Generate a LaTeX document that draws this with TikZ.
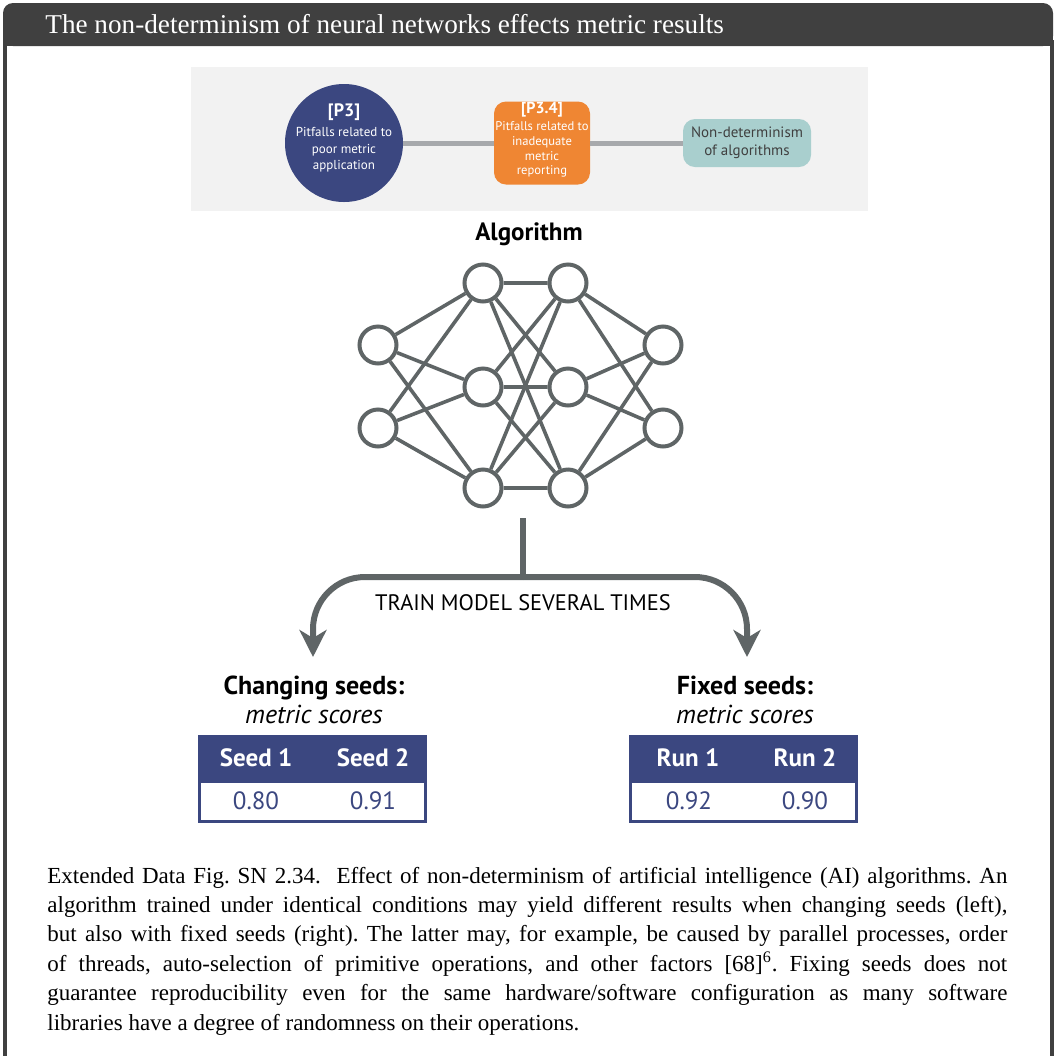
\documentclass[tikz,border=0pt]{standalone}
\usepackage{fontspec}
\setmainfont{Liberation Serif}
\newfontfamily\figsans{PT Sans}
\usetikzlibrary{arrows.meta,positioning}
\definecolor{framegray}{HTML}{404040}
\definecolor{bannergray}{HTML}{F2F2F2}
\definecolor{navy}{HTML}{3B4780}
\definecolor{pitorange}{HTML}{EF8633}
\definecolor{paleteal}{HTML}{A9CFCE}
\definecolor{linkgray}{HTML}{A7A9AC}
\definecolor{netgray}{HTML}{5F6566}
\begin{document}
\begin{tikzpicture}[x=0.5pt, y=-0.5pt, every node/.style={font=\figsans},
  neuron/.style={circle, draw=netgray, line width=2pt, fill=white, minimum size=18.5pt, inner sep=0pt},
  edge/.style={netgray, line width=1.8pt},
  link/.style={linkgray, line width=2.5pt},
  flow/.style={netgray, line width=3pt},
  arr/.style={flow, rounded corners=26pt, -{Stealth[length=13.5pt, width=13.5pt, inset=4pt]}},
  pit/.style={text=white, align=center, inner sep=0pt},
  head/.style={align=center, font=\figsans\bfseries\fontsize{13}{14.5}\selectfont},
  thead/.style={fill=navy, draw=navy, line width=1.5pt, minimum width=113pt, minimum height=22.5pt, inner sep=0pt},
  tbody/.style={fill=white, draw=navy, line width=1.5pt, minimum width=113pt, minimum height=20pt, inner sep=0pt},
  hcell/.style={text=white, font=\figsans\bfseries\fontsize{12.5}{14}\selectfont},
  vcell/.style={text=navy, font=\figsans\fontsize{12.5}{14}\selectfont}]
\useasboundingbox (0,0) rectangle (1054,1056);
% frame and title bar
\fill[framegray, rounded corners=5pt] (3,3) rectangle (1053,46);
\fill[framegray] (3,30) rectangle (1053,46);
\draw[framegray, line width=2pt] (5,40) -- (5,1070);
\draw[framegray, line width=1.75pt] (1052,40) -- (1052,1070);
\node[anchor=base west, text=white, inner sep=0pt, font=\rmfamily\fontsize{13.6}{15}\selectfont] (title) at (45,33)
  {The non-determinism of neural networks effects metric results};
% pitfall banner
\fill[bannergray] (191,67) rectangle (868,211);
\node[circle, fill=navy, minimum size=59pt, inner sep=0pt] (p3) at (344,143) {};
\node[pit, font=\figsans\fontsize{6.5}{8.2}\selectfont] (p3txt) at (344,138)
  {{\bfseries\fontsize{9}{11}\selectfont [P3]}\\[2pt] Pitfalls related to\\poor metric\\application};
\node[fill=pitorange, rounded corners=6pt, minimum width=48pt, minimum height=41.5pt, inner sep=0pt] (p34) at (542,143) {};
\node[pit, font=\figsans\fontsize{6.3}{7.4}\selectfont] (p34txt) at (542,140)
  {{\bfseries\fontsize{8}{9.5}\selectfont [P3.4]}\\[1pt] Pitfalls related to\\inadequate\\metric\\reporting};
\node[fill=paleteal, rounded corners=6pt, minimum width=64pt, minimum height=24pt, align=center, inner sep=0pt,
  text=black!75, font=\figsans\fontsize{7.5}{9}\selectfont] (teal) at (747,143) {Non-determinism\\of algorithms};
\draw[link] (p3) -- (p34);
\draw[link] (p34) -- (teal);
% network
\node[font=\figsans\bfseries\fontsize{12.5}{14}\selectfont] (algo) at (529,234) {Algorithm};
\node[neuron] (i1) at (378,345) {};
\node[neuron] (i2) at (378,428) {};
\node[neuron] (h1) at (483,283) {};
\node[neuron] (h2) at (483,387) {};
\node[neuron] (h3) at (483,488) {};
\node[neuron] (g1) at (568,283) {};
\node[neuron] (g2) at (568,387) {};
\node[neuron] (g3) at (568,488) {};
\node[neuron] (o1) at (663,345) {};
\node[neuron] (o2) at (663,428) {};
\draw[edge] (i1) -- (h1) (i1) -- (h2) (i1) -- (h3);
\draw[edge] (i2) -- (h1) (i2) -- (h2) (i2) -- (h3);
\draw[edge] (h1) -- (g1) (h1) -- (g2) (h1) -- (g3);
\draw[edge] (h2) -- (g1) (h2) -- (g2) (h2) -- (g3);
\draw[edge] (h3) -- (g1) (h3) -- (g2) (h3) -- (g3);
\draw[edge] (g1) -- (o1) (g1) -- (o2);
\draw[edge] (g2) -- (o1) (g2) -- (o2);
\draw[edge] (g3) -- (o1) (g3) -- (o2);
% training split
\coordinate (stem) at (523,518);
\coordinate (split) at (523,577);
\coordinate (ltip) at (313,657);
\coordinate (rtip) at (747,657);
\draw[flow] (stem) -- (split);
\draw[arr] (split) -| (ltip);
\draw[arr] (split) -| (rtip);
\node[font=\figsans\fontsize{11.2}{13}\selectfont] (train) at (523,603) {TRAIN MODEL SEVERAL TIMES};
% results
\node[head] (chg) at (314,700) {Changing seeds:\\\mdseries\itshape metric scores};
\node[head] (fix) at (745,700) {Fixed seeds:\\\mdseries\itshape metric scores};
\node[thead] (lhead) at (312.5,759) {};
\node[tbody] (lbody) at (312.5,801.5) {};
\node[hcell] (seed1) at (256,758) {Seed 1};
\node[hcell] (seed2) at (373,758) {Seed 2};
\node[vcell] (v1) at (256,801) {0.80};
\node[vcell] (v2) at (373,801) {0.91};
\node[thead] (rhead) at (743.5,759) {};
\node[tbody] (rbody) at (743.5,801.5) {};
\node[hcell] (run1) at (688,758) {Run 1};
\node[hcell] (run2) at (805,758) {Run 2};
\node[vcell] (v3) at (689,801) {0.92};
\node[vcell] (v4) at (805,801) {0.90};
% caption
\node[anchor=base west, text width=480pt, align=justify, inner sep=0pt,
  font=\rmfamily\frenchspacing\fontsize{11.5}{14.7}\selectfont] (caption) at (47,883)
  {Extended Data Fig. SN 2.34.\ \ Effect of non-determinism of artificial intelligence (AI) algorithms. An\linebreak
  algorithm trained under identical conditions may yield different results when changing seeds (left),\linebreak
  but also with fixed seeds (right). The latter may, for example, be caused by parallel processes, order\linebreak
  of threads, auto-selection of primitive operations, and other factors [68]\textsuperscript{6}. Fixing seeds does not\linebreak
  guarantee reproducibility even for the same hardware/software configuration as many software\linebreak
  libraries have a degree of randomness on their operations.};
\end{tikzpicture}
\end{document}
